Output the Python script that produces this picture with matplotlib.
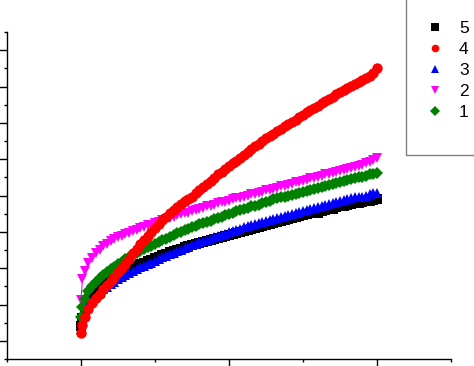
import matplotlib
matplotlib.use("Agg")
import matplotlib.pyplot as plt
from matplotlib.patches import Rectangle
from matplotlib.lines import Line2D
from matplotlib.ticker import MultipleLocator

x = [0, 0.01, 0.025, 0.05, 0.075, 0.1, 0.125, 0.15, 0.175, 0.2, 0.225, 0.25, 0.275, 0.3,
     0.325, 0.35, 0.375, 0.4, 0.425, 0.45, 0.475, 0.5, 0.525, 0.55, 0.575, 0.6, 0.625,
     0.65, 0.675, 0.7, 0.725, 0.75, 0.775, 0.8, 0.825, 0.85, 0.875, 0.9, 0.925, 0.95,
     0.975, 1.0, 1.025, 1.05, 1.075, 1.1, 1.125, 1.15, 1.175, 1.2, 1.225, 1.25, 1.275,
     1.3, 1.325, 1.35, 1.375, 1.4, 1.425, 1.45, 1.475, 1.5, 1.525, 1.55, 1.575, 1.6,
     1.625, 1.65, 1.675, 1.7, 1.725, 1.75, 1.775, 1.8, 1.825, 1.85, 1.875, 1.9, 1.925,
     1.95, 1.975, 2.0]

s4 = [0.22, 0.44, 0.66, 0.88, 1.04, 1.18, 1.30, 1.42, 1.53, 1.64, 1.76, 1.89, 2.00, 2.11,
      2.26, 2.41, 2.54, 2.66, 2.77, 2.88, 2.99, 3.10, 3.21, 3.32, 3.42, 3.51, 3.59,
      3.67, 3.76, 3.84, 3.91, 3.97, 4.06, 4.14, 4.24, 4.33, 4.41, 4.49, 4.58, 4.66,
      4.74, 4.82, 4.89, 4.96, 5.04, 5.12, 5.21, 5.29, 5.35, 5.42, 5.51, 5.59, 5.64,
      5.70, 5.77, 5.84, 5.91, 5.97, 6.02, 6.08, 6.15, 6.22, 6.29, 6.36, 6.41, 6.47,
      6.54, 6.60, 6.65, 6.71, 6.78, 6.85, 6.90, 6.96, 7.02, 7.07, 7.13, 7.18, 7.24,
      7.29, 7.38, 7.51]
s2 = [1.12, 1.70, 1.92, 2.14, 2.27, 2.41, 2.51, 2.60, 2.67, 2.74, 2.80, 2.85, 2.89, 2.93,
      2.97, 3.01, 3.06, 3.10, 3.14, 3.18, 3.20, 3.23, 3.28, 3.32, 3.34, 3.37, 3.41,
      3.45, 3.48, 3.51, 3.53, 3.56, 3.59, 3.62, 3.66, 3.70, 3.72, 3.75, 3.78, 3.81,
      3.83, 3.86, 3.89, 3.92, 3.94, 3.97, 4.00, 4.03, 4.05, 4.08, 4.11, 4.14, 4.16,
      4.19, 4.22, 4.25, 4.27, 4.30, 4.33, 4.36, 4.38, 4.41, 4.44, 4.47, 4.49, 4.52,
      4.55, 4.58, 4.60, 4.63, 4.65, 4.68, 4.71, 4.74, 4.76, 4.79, 4.82, 4.85, 4.89,
      4.93, 4.98, 5.04]
s1 = [0.66, 0.93, 1.15, 1.37, 1.51, 1.62, 1.72, 1.81, 1.89, 1.97, 2.04, 2.11, 2.18, 2.25,
      2.31, 2.36, 2.42, 2.47, 2.53, 2.58, 2.62, 2.66, 2.72, 2.77, 2.81, 2.85, 2.91,
      2.96, 3.00, 3.04, 3.08, 3.12, 3.17, 3.21, 3.23, 3.26, 3.30, 3.34, 3.38, 3.42,
      3.45, 3.48, 3.52, 3.56, 3.59, 3.62, 3.66, 3.70, 3.72, 3.75, 3.78, 3.81, 3.85,
      3.89, 3.92, 3.95, 3.97, 4.00, 4.02, 4.05, 4.08, 4.11, 4.13, 4.16, 4.19, 4.22,
      4.24, 4.27, 4.30, 4.33, 4.35, 4.38, 4.41, 4.44, 4.46, 4.49, 4.50, 4.52, 4.55,
      4.58, 4.60, 4.63]
s3 = [0.33, 0.52, 0.74, 0.99, 1.12, 1.23, 1.33, 1.42, 1.49, 1.56, 1.63, 1.70, 1.76, 1.81,
      1.87, 1.92, 1.98, 2.03, 2.07, 2.11, 2.15, 2.19, 2.25, 2.30, 2.34, 2.38, 2.43,
      2.47, 2.51, 2.55, 2.59, 2.63, 2.67, 2.71, 2.74, 2.77, 2.81, 2.85, 2.88, 2.90,
      2.95, 2.99, 3.02, 3.04, 3.08, 3.12, 3.15, 3.18, 3.21, 3.23, 3.26, 3.29, 3.32,
      3.34, 3.37, 3.40, 3.43, 3.45, 3.48, 3.51, 3.54, 3.56, 3.59, 3.62, 3.65, 3.67,
      3.70, 3.73, 3.76, 3.78, 3.81, 3.84, 3.87, 3.89, 3.92, 3.95, 3.96, 3.97, 4.00,
      4.03, 4.06, 4.08]
s5 = [0.41, 0.63, 0.86, 1.10, 1.23, 1.34, 1.43, 1.51, 1.59, 1.67, 1.74, 1.81, 1.87, 1.92,
      1.98, 2.03, 2.07, 2.11, 2.15, 2.19, 2.23, 2.27, 2.32, 2.36, 2.40, 2.44, 2.47,
      2.49, 2.54, 2.58, 2.61, 2.63, 2.66, 2.68, 2.71, 2.74, 2.77, 2.79, 2.82, 2.85,
      2.88, 2.90, 2.93, 2.96, 2.99, 3.01, 3.04, 3.07, 3.10, 3.12, 3.15, 3.18, 3.21,
      3.23, 3.26, 3.29, 3.32, 3.34, 3.37, 3.40, 3.43, 3.45, 3.48, 3.51, 3.52, 3.53,
      3.56, 3.59, 3.62, 3.64, 3.67, 3.70, 3.72, 3.73, 3.76, 3.78, 3.80, 3.81, 3.84,
      3.86, 3.88, 3.89]

labels = ["5", "4", "3", "2", "1"]
series = [s5, s4, s3, s2, s1]
colors = ["#000000", "#ff0000", "#0000ff", "#ff00ff", "#008000"]
markers = ["s", "o", "^", "v", "D"]
msizes = [6.5, 7.5, 7.5, 7.5, 6.5]

plt.rcParams['font.family'] = ['Liberation Sans', 'DejaVu Sans']

W, H = 474, 366
fig = plt.figure(figsize=(W / 100, H / 100), dpi=100)
ax = fig.add_axes([7 / W, 1 - 359 / H, 444 / W, 327 / H])

order = [0, 2, 3, 4, 1]
for i in order:
    ax.plot(x, series[i], color=colors[i], marker=markers[i], markersize=msizes[i],
            markeredgewidth=0, linewidth=0.8, clip_on=False)

ax.set_xlim(-0.5, 2.5)
ax.set_ylim(-0.5, 8.5)
ax.xaxis.set_major_locator(MultipleLocator(1))
ax.xaxis.set_minor_locator(MultipleLocator(0.5))
ax.yaxis.set_major_locator(MultipleLocator(1))
ax.yaxis.set_minor_locator(MultipleLocator(0.5))
ax.tick_params(which='major', direction='out', length=5.5, width=1.0,
               labelleft=False, labelbottom=False)
ax.tick_params(which='minor', direction='out', length=2.5, width=1.0)
for sp in ['top', 'right']:
    ax.spines[sp].set_visible(False)
for sp in ['left', 'bottom']:
    ax.spines[sp].set_linewidth(1.0)

fig.patches.append(Rectangle((406 / W, 1 - 155 / H), 0.5, 0.6, transform=fig.transFigure,
                             fill=False, edgecolor='#808080', linewidth=1.0))
proxies = [Line2D([], [], linestyle='none', marker=markers[i], color=colors[i],
                  markersize=5.5, markeredgewidth=0) for i in range(5)]
fig.legend(proxies, labels, loc='center left',
           bbox_to_anchor=(412 / W, 1 - 70.5 / H), frameon=False, fontsize=12.5,
           handlelength=0.9, handletextpad=0.9, labelspacing=0.33,
           borderpad=0.4)

fig.savefig("out.png", dpi=100)
